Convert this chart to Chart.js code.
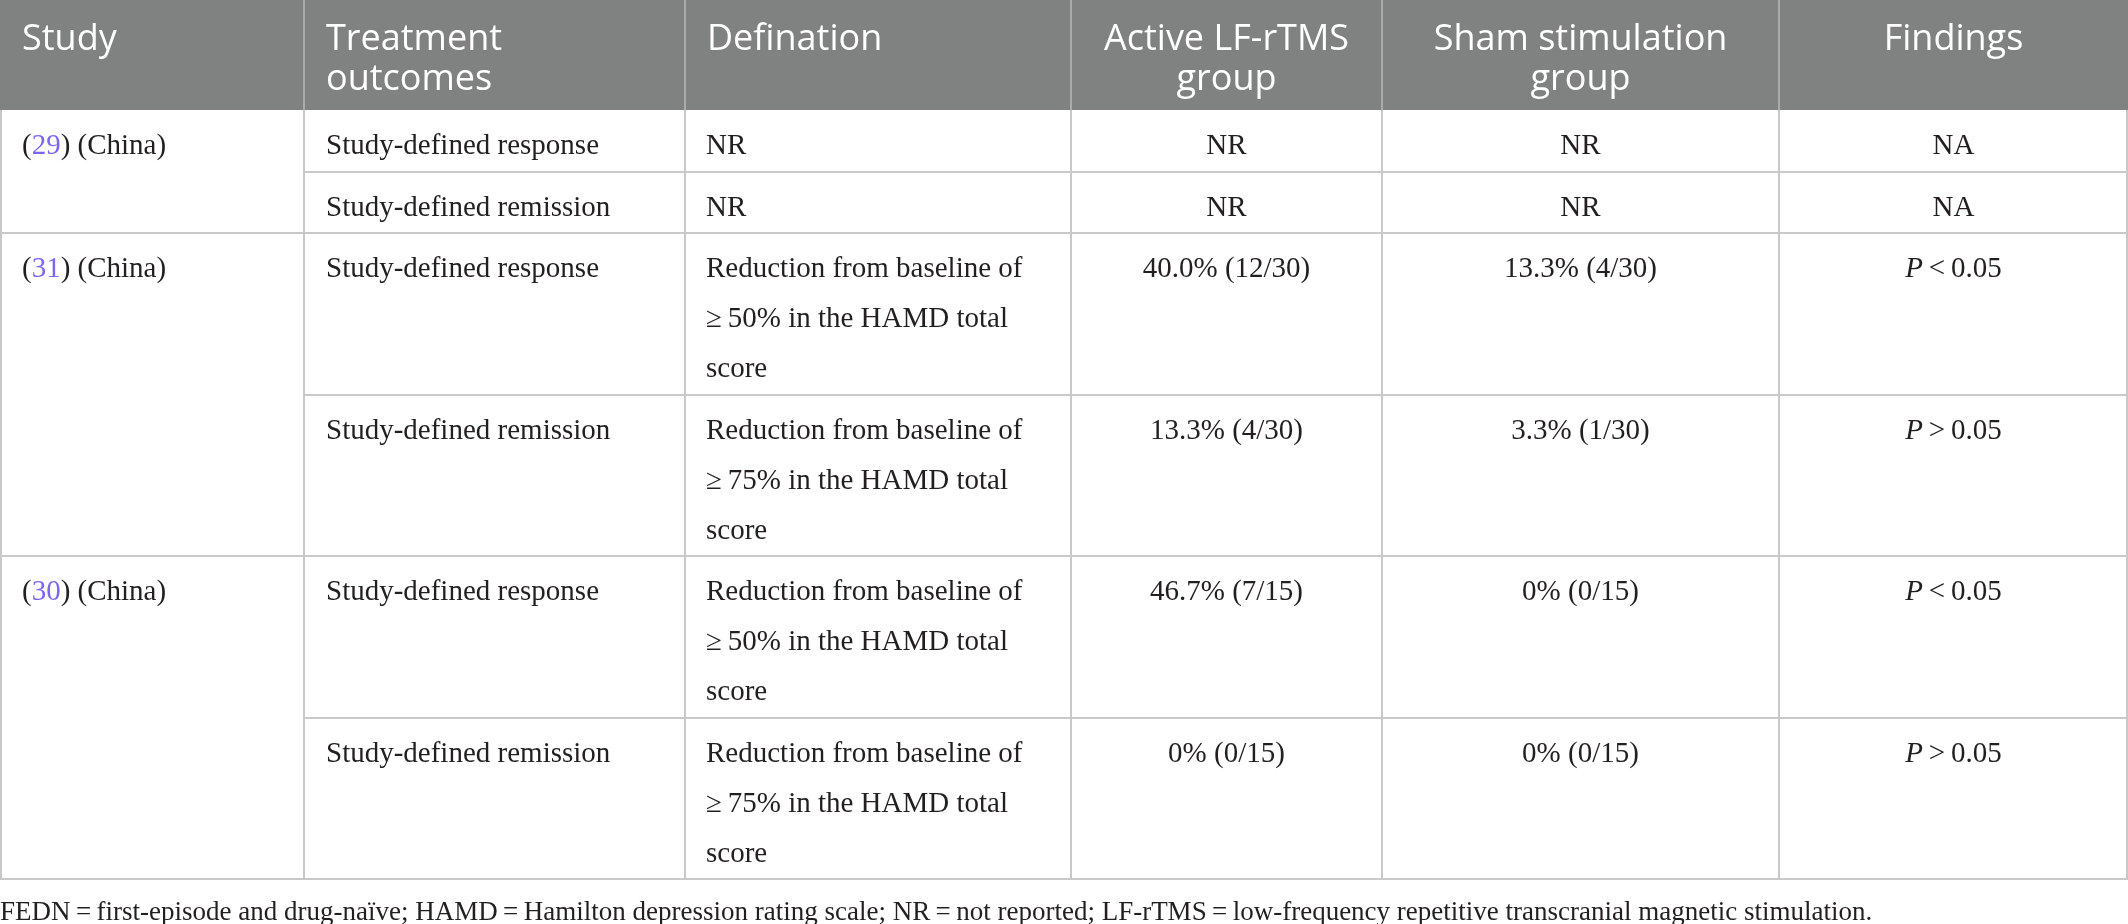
<html>
<head>
<script src="https://cdn.jsdelivr.net/npm/chart.js@4.4.1/dist/chart.umd.min.js"></script>
<style>
body { margin:0; background:#ffffff; }
#wrap { position:absolute; left:0; top:0; width:2128px; height:924px; }
</style>
</head>
<body>
<div id="wrap"><canvas id="tbl" width="2128" height="924"></canvas></div>
<script>
// table content
var headers = [['Study'], ['Treatment', 'outcomes'], ['Defination'], ['Active LF-rTMS', 'group'], ['Sham stimulation', 'group'], ['Findings']];
var studyRefs = ['29', '31', '30'];
var studyCountry = ['China', 'China', 'China'];
var outcomes = ['Study-defined response', 'Study-defined remission', 'Study-defined response', 'Study-defined remission', 'Study-defined response', 'Study-defined remission'];
var definitions = [
  ['NR'],
  ['NR'],
  ['Reduction from baseline of', '\u2265\u200950% in the HAMD total', 'score'],
  ['Reduction from baseline of', '\u2265\u200975% in the HAMD total', 'score'],
  ['Reduction from baseline of', '\u2265\u200950% in the HAMD total', 'score'],
  ['Reduction from baseline of', '\u2265\u200975% in the HAMD total', 'score']
];
var activeGroup = ['NR', 'NR', '40.0% (12/30)', '13.3% (4/30)', '46.7% (7/15)', '0% (0/15)'];
var shamGroup = ['NR', 'NR', '13.3% (4/30)', '3.3% (1/30)', '0% (0/15)', '0% (0/15)'];
var findings = ['NA', 'NA', 'P\u2009<\u20090.05', 'P\u2009>\u20090.05', 'P\u2009<\u20090.05', 'P\u2009>\u20090.05'];
var footnote = 'FEDN\u2009=\u2009first-episode and drug-na\u00efve; HAMD\u2009=\u2009Hamilton depression rating scale; NR\u2009=\u2009not reported; LF-rTMS\u2009=\u2009low-frequency repetitive transcranial magnetic stimulation.';

// layout (pixel units of the scales)
var colEdges = [0, 304, 685, 1071, 1382, 1779, 2128];
var rowEdges = [0, 110, 172, 233, 395, 556, 718, 879];
var centered = [false, false, false, true, true, true];
var bodyFont = '29px "Liberation Serif"';

var tablePlugin = {
  id: 'tablePlugin',
  afterDraw: function(chart) {
    var ctx = chart.ctx;
    var xs = chart.scales.x, ys = chart.scales.y;
    function X(v) { return xs.getPixelForValue(v); }
    function Y(v) { return ys.getPixelForValue(v); }
    ctx.save();
    // header band
    ctx.fillStyle = '#808281';
    ctx.fillRect(X(0), Y(0), X(2128) - X(0), Y(rowEdges[1]) - Y(0));
    ctx.strokeStyle = '#a9aaa9';
    ctx.lineWidth = 2;
    for (var c = 1; c < colEdges.length - 1; c++) {
      ctx.beginPath();
      ctx.moveTo(X(colEdges[c]), Y(0));
      ctx.lineTo(X(colEdges[c]), Y(rowEdges[1]));
      ctx.stroke();
    }
    ctx.fillStyle = '#ffffff';
    ctx.font = '36px "Open Sans"';
    ctx.textBaseline = 'alphabetic';
    for (var h = 0; h < headers.length; h++) {
      for (var l = 0; l < headers[h].length; l++) {
        var ty = Y(50 + l * 40);
        if (centered[h]) {
          ctx.textAlign = 'center';
          ctx.fillText(headers[h][l], (X(colEdges[h]) + X(colEdges[h + 1])) / 2, ty);
        } else {
          ctx.textAlign = 'left';
          ctx.fillText(headers[h][l], X(colEdges[h]) + 22, ty);
        }
      }
    }
    // body grid
    ctx.strokeStyle = '#c9c9c9';
    ctx.lineWidth = 2;
    for (var r = 2; r < rowEdges.length; r++) {
      var full = (r % 2 === 1);
      ctx.beginPath();
      ctx.moveTo(X(full ? 0 : colEdges[1]), Y(rowEdges[r]));
      ctx.lineTo(X(2128), Y(rowEdges[r]));
      ctx.stroke();
    }
    for (var c2 = 0; c2 < colEdges.length; c2++) {
      var xv = c2 === 0 ? 1 : (c2 === colEdges.length - 1 ? 2127 : colEdges[c2]);
      ctx.beginPath();
      ctx.moveTo(X(xv), Y(rowEdges[1]));
      ctx.lineTo(X(xv), Y(rowEdges[rowEdges.length - 1]));
      ctx.stroke();
    }
    // body text
    ctx.font = bodyFont;
    ctx.fillStyle = '#231f20';
    for (var s = 0; s < studyRefs.length; s++) {
      var by = Y(rowEdges[1 + s * 2] + 44);
      var x0 = X(colEdges[0]) + 22;
      ctx.textAlign = 'left';
      ctx.fillStyle = '#231f20';
      ctx.fillText('(', x0, by);
      x0 += ctx.measureText('(').width;
      ctx.fillStyle = '#7b68ee';
      ctx.fillText(studyRefs[s], x0, by);
      x0 += ctx.measureText(studyRefs[s]).width;
      ctx.fillStyle = '#231f20';
      ctx.fillText(') (' + studyCountry[s] + ')', x0, by);
    }
    for (var i = 0; i < outcomes.length; i++) {
      var top = rowEdges[i + 1];
      ctx.textAlign = 'left';
      ctx.fillText(outcomes[i], X(colEdges[1]) + 22, Y(top + 44));
      for (var d = 0; d < definitions[i].length; d++) {
        ctx.fillText(definitions[i][d], X(colEdges[2]) + 21, Y(top + 44 + d * 50));
      }
      ctx.textAlign = 'center';
      ctx.fillText(activeGroup[i], (X(colEdges[3]) + X(colEdges[4])) / 2, Y(top + 44));
      ctx.fillText(shamGroup[i], (X(colEdges[4]) + X(colEdges[5])) / 2, Y(top + 44));
      var f = findings[i];
      var cx = (X(colEdges[5]) + X(colEdges[6])) / 2;
      if (f.charAt(0) === 'P') {
        ctx.font = 'italic ' + bodyFont;
        var w1 = ctx.measureText('P').width;
        ctx.font = bodyFont;
        var rest = f.slice(1);
        var w2 = ctx.measureText(rest).width;
        var sx = cx - (w1 + w2) / 2;
        ctx.textAlign = 'left';
        ctx.font = 'italic ' + bodyFont;
        ctx.fillText('P', sx, Y(top + 44));
        ctx.font = bodyFont;
        ctx.fillText(rest, sx + w1, Y(top + 44));
      } else {
        ctx.fillText(f, cx, Y(top + 44));
      }
    }
    // footnote
    ctx.textAlign = 'left';
    ctx.font = '27px "Liberation Serif"';
    ctx.fillText(footnote, X(0), Y(920));
    ctx.restore();
  }
};

new Chart(document.getElementById('tbl'), {
  type: 'scatter',
  data: { datasets: [{ data: [] }] },
  options: {
    responsive: false,
    animation: false,
    devicePixelRatio: 1,
    layout: { padding: 0 },
    plugins: { legend: { display: false }, tooltip: { enabled: false } },
    scales: {
      x: { type: 'linear', min: 0, max: 2128, display: false },
      y: { type: 'linear', min: 0, max: 924, reverse: true, display: false }
    }
  },
  plugins: [tablePlugin]
});
</script>
</body>
</html>
